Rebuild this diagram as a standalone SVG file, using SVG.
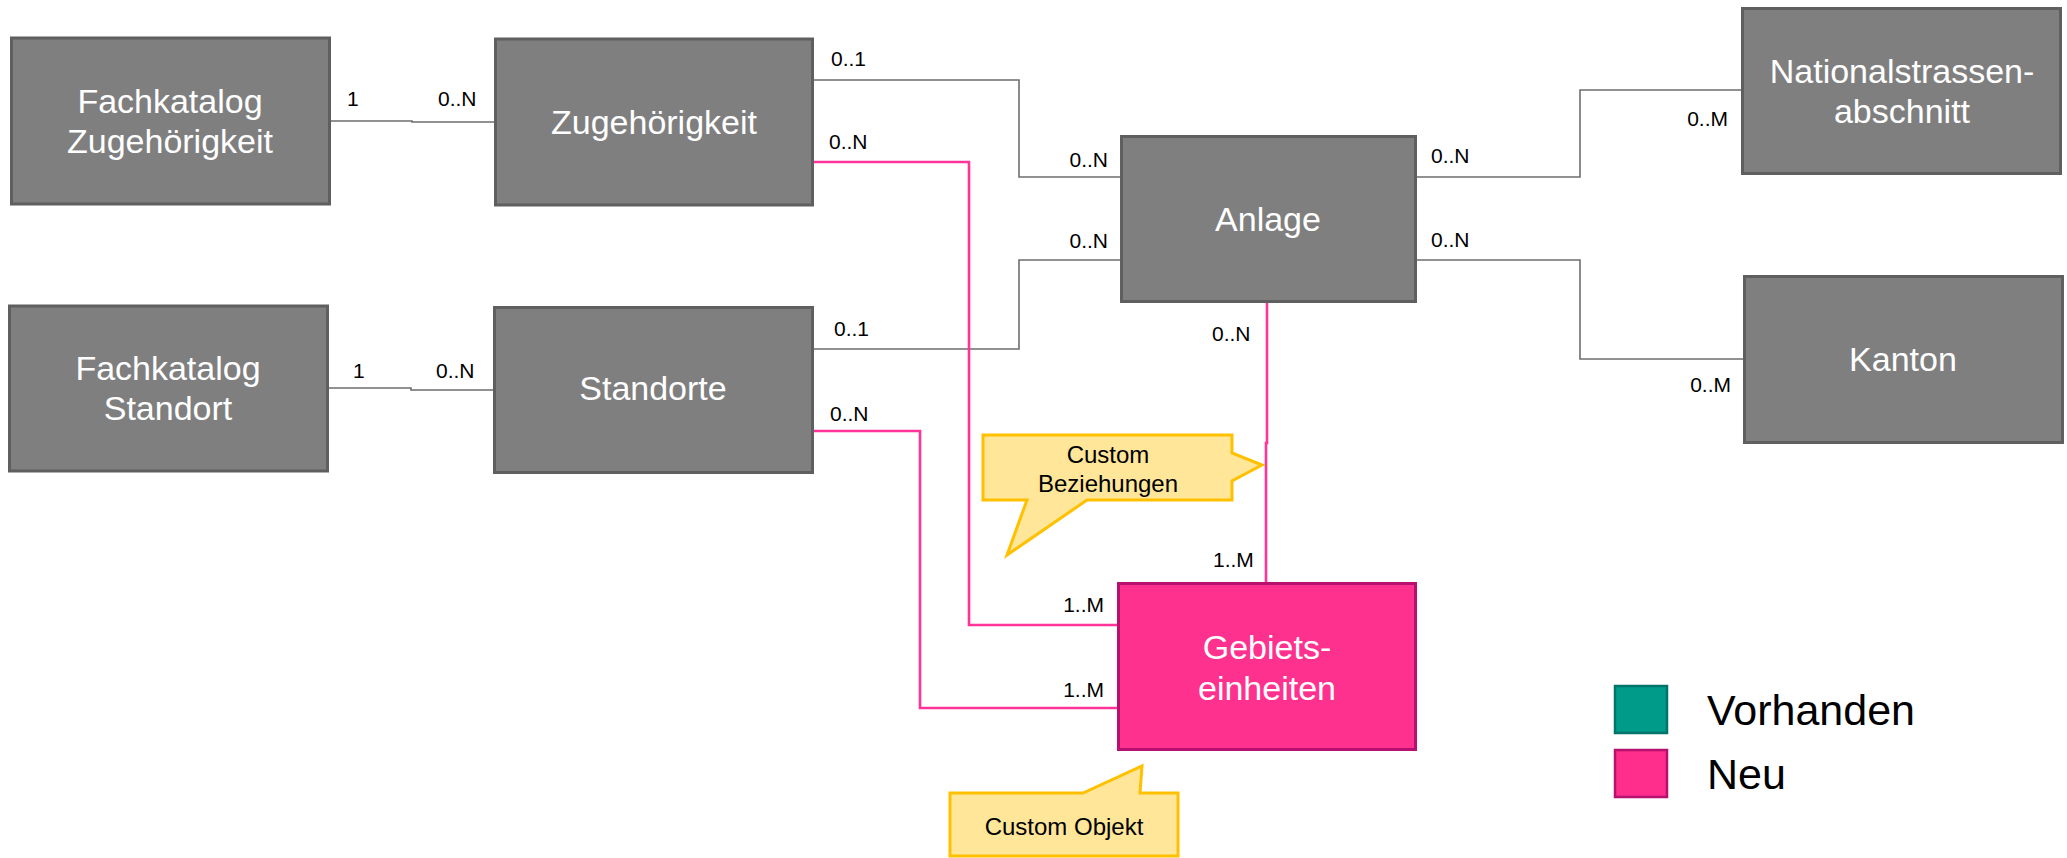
<svg xmlns="http://www.w3.org/2000/svg" width="2067" height="858" viewBox="0 0 2067 858">
<style>
.box{fill:#7f7f7f;stroke:#5f5f5f;stroke-width:3}
.new{fill:#ff318e;stroke:#b8106e;stroke-width:3}
.nt{font-family:"Liberation Sans",Arial,sans-serif;font-size:34px;fill:#ffffff;text-anchor:middle}
.lb{font-family:"Liberation Sans",Arial,sans-serif;font-size:21px;fill:#000000}
.end{text-anchor:end}
.gl{fill:none;stroke:#6e6e6e;stroke-width:1.6}
.pl{fill:none;stroke:#ff3399;stroke-width:2.6}
.call{fill:#ffe699;stroke:#ffc000;stroke-width:3;stroke-linejoin:miter}
.ct{font-family:"Liberation Sans",Arial,sans-serif;font-size:24px;fill:#000000;text-anchor:middle}
.lg{font-family:"Liberation Sans",Arial,sans-serif;font-size:43px;fill:#000000}
</style>
<rect width="2067" height="858" fill="#ffffff"/>
<g id="connectors">
<polyline class="gl" points="330,121 412,121 412,122 495,122"/>
<polyline class="gl" points="328,388 411,388 411,390 494,390"/>
<polyline class="gl" points="813,80 1019,80 1019,177 1121,177"/>
<polyline class="gl" points="813,349 1019,349 1019,260 1121,260"/>
<polyline class="gl" points="1416,177 1580,177 1580,90 1742,90"/>
<polyline class="gl" points="1416,260 1580,260 1580,359 1744,359"/>
<polyline class="pl" points="813,162 969,162 969,625 1117,625"/>
<polyline class="pl" points="813,431 920,431 920,708 1117,708"/>
<polyline class="pl" points="1267,303 1267,443 1266,443 1266,583"/>
<text class="lb" x="347" y="106">1</text>
<text class="lb" x="438" y="106">0..N</text>
<text class="lb" x="353" y="378">1</text>
<text class="lb" x="436" y="378">0..N</text>
<text class="lb" x="831" y="66">0..1</text>
<text class="lb end" x="1108" y="167">0..N</text>
<text class="lb" x="834" y="336">0..1</text>
<text class="lb end" x="1108" y="248">0..N</text>
<text class="lb" x="829" y="149">0..N</text>
<text class="lb" x="830" y="421">0..N</text>
<text class="lb" x="1431" y="163">0..N</text>
<text class="lb end" x="1728" y="126">0..M</text>
<text class="lb" x="1431" y="247">0..N</text>
<text class="lb end" x="1731" y="392">0..M</text>
<text class="lb" x="1212" y="341">0..N</text>
<text class="lb" x="1213" y="567">1..M</text>
<text class="lb end" x="1104" y="612">1..M</text>
<text class="lb end" x="1104" y="697">1..M</text>
</g>
<g id="fachkatalog-zugehoerigkeit">
<rect class="box" x="11.5" y="38" width="318" height="166"/>
<text class="nt" x="170" y="113">Fachkatalog</text>
<text class="nt" x="170" y="153">Zugehörigkeit</text>
</g>
<g id="zugehoerigkeit">
<rect class="box" x="495.5" y="39" width="317" height="166"/>
<text class="nt" x="654" y="134">Zugehörigkeit</text>
</g>
<g id="fachkatalog-standort">
<rect class="box" x="9.5" y="306" width="318" height="165"/>
<text class="nt" x="168" y="380">Fachkatalog</text>
<text class="nt" x="168" y="420">Standort</text>
</g>
<g id="standorte">
<rect class="box" x="494.5" y="307.5" width="318" height="165"/>
<text class="nt" x="653" y="400">Standorte</text>
</g>
<g id="anlage">
<rect class="box" x="1121.5" y="136.5" width="294" height="165"/>
<text class="nt" x="1268" y="231">Anlage</text>
</g>
<g id="nationalstrassenabschnitt">
<rect class="box" x="1742.5" y="8.5" width="318" height="165"/>
<text class="nt" x="1902" y="83">Nationalstrassen-</text>
<text class="nt" x="1902" y="123">abschnitt</text>
</g>
<g id="kanton">
<rect class="box" x="1744.5" y="276.5" width="318" height="166"/>
<text class="nt" x="1903" y="371">Kanton</text>
</g>
<g id="gebietseinheiten">
<rect class="new" x="1118.5" y="583.5" width="297" height="166"/>
<text class="nt" x="1267" y="659">Gebiets-</text>
<text class="nt" x="1267" y="700">einheiten</text>
</g>
<g id="callout-beziehungen">
<path class="call" d="M983,435 H1232 V453 L1262,465 L1232,481 V500 H1087 L1007,555 L1027,500 H983 Z"/>
<text class="ct" x="1108" y="463">Custom</text>
<text class="ct" x="1108" y="492">Beziehungen</text>
</g>
<g id="callout-objekt">
<path class="call" d="M950,793 H1083 L1142,766 L1140,793 H1178 V856 H950 Z"/>
<text class="ct" x="1064" y="835">Custom Objekt</text>
</g>
<g id="legend">
<rect x="1615" y="686" width="52" height="47" fill="#009b89" stroke="#00736a" stroke-width="2.5"/>
<text class="lg" x="1707" y="725">Vorhanden</text>
<rect x="1615" y="750" width="52" height="47" fill="#ff2d8c" stroke="#b5126f" stroke-width="2.5"/>
<text class="lg" x="1707" y="789">Neu</text>
</g>
</svg>
